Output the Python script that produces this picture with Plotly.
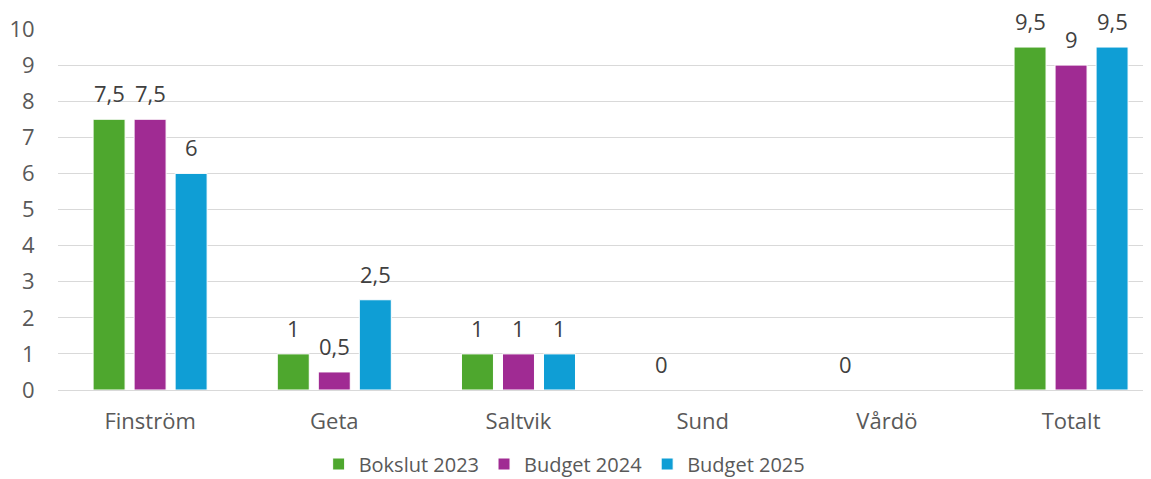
import plotly.graph_objects as go

categories = ["Finström", "Geta", "Saltvik", "Sund", "Vårdö", "Totalt"]
series_names = ["Bokslut 2023", "Budget 2024", "Budget 2025"]
bokslut_2023 = [7.5, 1, 1, 0, 0, 9.5]
budget_2024 = [7.5, 0.5, 1, None, None, 9]
budget_2025 = [6, 2.5, 1, None, None, 9.5]
colors = ["#4EA72E", "#A02B93", "#0F9ED5"]

all_series = [bokslut_2023, budget_2024, budget_2025]
FONT = "Open Sans"
TXT = "#595959"
FS = 22
W, H = 1143, 471

fig = go.Figure()
for name, vals, col in zip(series_names, all_series, colors):
    fig.add_trace(go.Bar(
        x=categories, y=vals, name=name,
        marker=dict(color=col, line=dict(color="white", width=1)),
    ))

# data labels above bars
shifts = [-41, 0, 41]
for vals, xs in zip(all_series, shifts):
    for c, v in zip(categories, vals):
        if v is None:
            continue
        txt = ("%g" % v).replace(".", ",")
        fig.add_annotation(x=c, y=v, xref="x", yref="y", text=txt,
                           showarrow=False, xshift=xs, yanchor="bottom", yshift=9,
                           font=dict(family=FONT, size=FS, color="#404040"))

fig.update_layout(
    width=W, height=H,
    margin=dict(l=50, r=0, t=21, b=89, autoexpand=False),
    paper_bgcolor="white", plot_bgcolor="white",
    barmode="group", bargap=0.332, bargroupgap=0.22,
    font=dict(family=FONT, size=FS, color=TXT),
    separators=", ",
    legend=dict(orientation="h", x=0.487, xanchor="center", xref="container",
                y=1 - 456 / H, yanchor="middle", yref="container",
                font=dict(family=FONT, size=20, color=TXT), itemwidth=30,
                traceorder="normal"),
)
fig.update_xaxes(range=[-0.5, 5.434], showgrid=False, showline=False, zeroline=False,
                 automargin=False,
                 ticks="outside", ticklen=0, tickcolor="white", ticklabelstandoff=12,
                 tickfont=dict(family=FONT, size=FS, color=TXT))
fig.update_yaxes(range=[0, 10], dtick=1, showgrid=True, gridcolor="#D9D9D9", gridwidth=1.3,
                 automargin=False,
                 zeroline=True, zerolinecolor="#D9D9D9", zerolinewidth=1.3, showline=False,
                 ticks="outside", ticklen=0, tickcolor="white", ticklabelstandoff=18,
                 tickfont=dict(family=FONT, size=FS, color=TXT))

fig.write_html("out.html")
